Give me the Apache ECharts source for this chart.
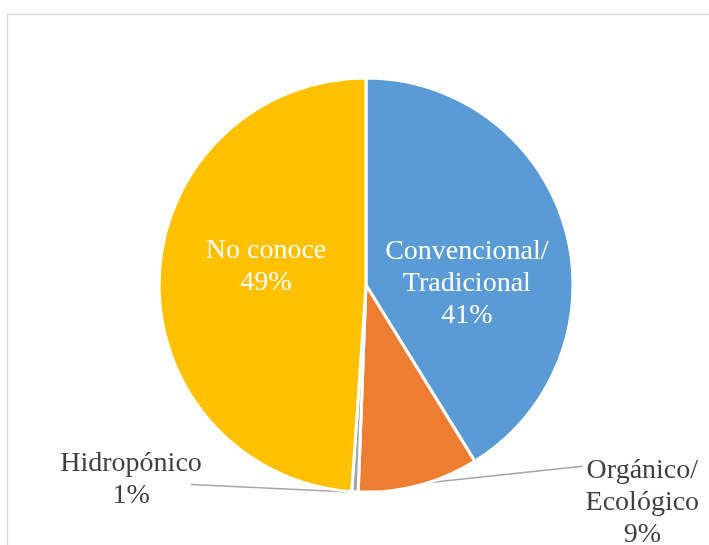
<!DOCTYPE html>
<html>
<head>
<meta charset="utf-8">
<script src="https://cdn.jsdelivr.net/npm/echarts@6/dist/echarts.min.js"></script>
<style>
  html, body { margin: 0; padding: 0; background: #ffffff; }
  #chart { width: 709px; height: 545px; }
</style>
</head>
<body>
<div id="chart"></div>
<script>
// Share of respondents by type of agriculture they know
const categories = ['Convencional/\nTradicional', 'Orgánico/\nEcológico', 'Hidropónico', 'No conoce'];
const shares = [41.2, 9.4, 0.5, 48.9];
const colors = ['#5B9BD5', '#ED7D31', '#A5A5A5', '#FFC000'];
const insideLabel = [true, false, false, true];

// label block centres, as offsets from the pie centre in units of the radius
const labelOffsets = [[0.487, -0.005], [1.335, 1.05], [-1.135, 0.94], [-0.483, -0.09]];

const chart = echarts.init(document.getElementById('chart'), null, { renderer: 'canvas' });

const CX = 366, CY = 285, R = 207;
const LINE_H = 32;

// point on (or just outside) the rim at the middle angle of slice i
function rimPoint(i, dr) {
  const total = shares.reduce(function (a, b) { return a + b; }, 0);
  let before = 0;
  for (let k = 0; k < i; k++) before += shares[k];
  const frac = (before + shares[i] / 2) / total;
  const ang = frac * Math.PI * 2; // clockwise from 12 o'clock
  const r = R + dr;
  return [CX + r * Math.sin(ang), CY - r * Math.cos(ang)];
}

const option = {
  backgroundColor: '#ffffff',
  animation: false,
  graphic: [{
    type: 'rect',
    shape: { x: 7.5, y: 14.5, width: 760, height: 600 },
    style: { fill: 'none', stroke: '#D9D9D9', lineWidth: 1.5 },
    silent: true
  }],
  series: [{
    type: 'pie',
    center: [CX, CY],
    radius: R,
    startAngle: 90,
    clockwise: true,
    percentPrecision: 0,
    itemStyle: { borderColor: '#ffffff', borderWidth: 3 },
    label: {
      fontFamily: '"Liberation Serif", "Times New Roman", serif',
      fontSize: 28,
      lineHeight: LINE_H,
      align: 'center',
      formatter: '{b}\n{d}%'
    },
    labelLine: {
      show: true,
      length: 0,
      length2: 10,
      lineStyle: { color: '#A6A6A6', width: 1.5 }
    },
    labelLayout: function (params) {
      const i = params.dataIndex;
      const off = labelOffsets[i];
      const x = CX + off[0] * R;
      const y = CY + off[1] * R;
      const res = { x: x, y: y, align: 'center', verticalAlign: 'middle' };
      const w = params.labelRect.width;
      const h = params.labelRect.height;
      if (i === 1) {
        // leader runs to the first text line, on the left side of the block
        res.labelLinePoints = [rimPoint(i, -1.5), [x - w / 2 - 3, y - h / 2 + LINE_H / 2 - 4]];
      } else if (i === 2) {
        res.labelLinePoints = [rimPoint(i, 0.5), [x + w / 2 - 11, y + 5]];
      }
      return res;
    },
    data: categories.map(function (name, i) {
      const inside = insideLabel[i];
      return {
        name: name,
        value: shares[i],
        itemStyle: { color: colors[i] },
        label: {
          position: inside ? 'inside' : 'outside',
          color: inside ? '#ffffff' : '#404040'
        },
        labelLine: { show: !inside }
      };
    })
  }]
};

chart.setOption(option);
</script>
</body>
</html>
